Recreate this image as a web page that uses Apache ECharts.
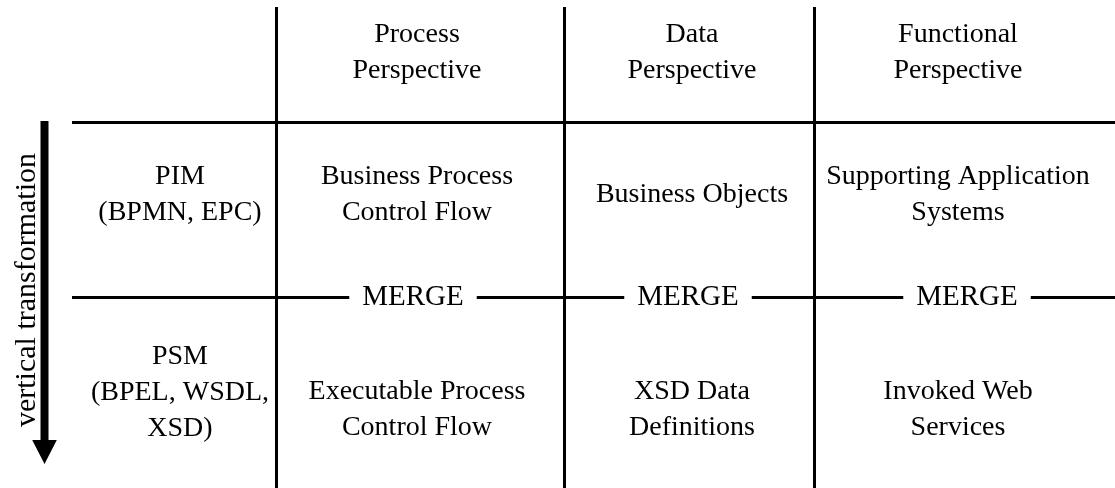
<!DOCTYPE html>
<html>
<head>
<meta charset="utf-8">
<script src="https://cdn.jsdelivr.net/npm/echarts@6/dist/echarts.min.js"></script>
<style>
html,body{margin:0;padding:0;background:#fff;}
#chart{width:1115px;height:488px;}
</style>
</head>
<body>
<div id="chart"></div>
<script>
// ---- data ----
const columnHeaders = ['Process\nPerspective', 'Data\nPerspective', 'Functional\nPerspective'];
const rowHeaders = ['PIM\n(BPMN, EPC)', 'PSM\n(BPEL, WSDL,\nXSD)'];
const pimCells = ['Business Process\nControl Flow', 'Business Objects', 'Supporting Application\nSystems'];
const psmCells = ['Executable Process\nControl Flow', 'XSD Data\nDefinitions', 'Invoked Web\nServices'];
const mergeLabel = 'MERGE';
const arrowLabel = 'vertical transformation';

// ---- layout (pixel-like units of the hidden axes) ----
const W = 1115, H = 488;
const layout = {
  tableLeft: 72,
  colEdges: [276, 564, 814],
  colCenters: [417, 692, 958],
  mergeCenters: [413, 688, 967],
  rowLabelX: 180,
  lineTop: 7,
  rowLines: [122, 297],
  headerY: 52.5,
  pimY: 195,
  psmLabelY: 393,
  psmCellY: 410,
  arrowX: 44.5, arrowTop: 121, arrowHeadTop: 440, arrowTip: 464,
  shaftHalf: 4, headHalf: 12.3,
  arrowTextX: 27, arrowTextY: 290
};

const FONT = 'Liberation Serif, Times New Roman, serif';
const baseLabel = {
  show: true, position: 'inside', color: '#000', opacity: 1, fontFamily: FONT,
  fontSize: 28, lineHeight: 36, align: 'center', verticalAlign: 'middle',
  formatter: p => p.name
};
const hiddenItem = {color: 'rgba(0,0,0,0)', opacity: 1};

// grid lines
const lineData = [];
layout.colEdges.forEach(x => lineData.push({coords: [[x, layout.lineTop], [x, H]]}));
layout.rowLines.forEach(y => lineData.push({coords: [[layout.tableLeft, y], [W, y]]}));

// text points
const textData = [];
columnHeaders.forEach((t, i) => textData.push({name: t, value: [layout.colCenters[i], layout.headerY]}));
textData.push({name: rowHeaders[0], value: [layout.rowLabelX, layout.pimY]});
textData.push({name: rowHeaders[1], value: [layout.rowLabelX, layout.psmLabelY]});
pimCells.forEach((t, i) => textData.push({name: t, value: [layout.colCenters[i], layout.pimY]}));
psmCells.forEach((t, i) => textData.push({name: t, value: [layout.colCenters[i], layout.psmCellY]}));

const mergeData = layout.mergeCenters.map(x => ({name: mergeLabel, value: [x, layout.rowLines[1]]}));

const chart = echarts.init(document.getElementById('chart'), null, {renderer: 'canvas'});
chart.setOption({
  animation: false,
  backgroundColor: '#fff',
  grid: {left: 0, right: 0, top: 0, bottom: 0},
  xAxis: {type: 'value', min: 0, max: W, show: false},
  yAxis: {type: 'value', min: 0, max: H, inverse: true, show: false},
  series: [
    {
      type: 'lines', coordinateSystem: 'cartesian2d', silent: true,
      lineStyle: {color: '#000', width: 3, opacity: 1},
      data: lineData, z: 1
    },
    {
      type: 'custom', silent: true, z: 2,
      data: [[layout.arrowX, layout.arrowTop]],
      renderItem: function (params, api) {
        const L = layout;
        const pts = [
          [L.arrowX - L.shaftHalf, L.arrowTop],
          [L.arrowX + L.shaftHalf, L.arrowTop],
          [L.arrowX + L.shaftHalf, L.arrowHeadTop],
          [L.arrowX + L.headHalf, L.arrowHeadTop],
          [L.arrowX, L.arrowTip],
          [L.arrowX - L.headHalf, L.arrowHeadTop],
          [L.arrowX - L.shaftHalf, L.arrowHeadTop]
        ].map(p => api.coord(p));
        return {type: 'polygon', shape: {points: pts}, style: {fill: '#000'}};
      }
    },
    {
      type: 'scatter', symbolSize: 1, silent: true, z: 3,
      itemStyle: hiddenItem,
      label: baseLabel,
      data: textData
    },
    {
      type: 'scatter', symbolSize: 1, silent: true, z: 4,
      itemStyle: hiddenItem,
      label: Object.assign({}, baseLabel, {fontSize: 29, backgroundColor: '#fff', padding: [2, 13, 0, 13]}),
      data: mergeData
    },
    {
      type: 'scatter', symbolSize: 1, silent: true, z: 4,
      itemStyle: hiddenItem,
      label: Object.assign({}, baseLabel, {rotate: 90, fontSize: 30}),
      data: [{name: arrowLabel, value: [layout.arrowTextX, layout.arrowTextY]}]
    }
  ]
});
</script>
</body>
</html>
